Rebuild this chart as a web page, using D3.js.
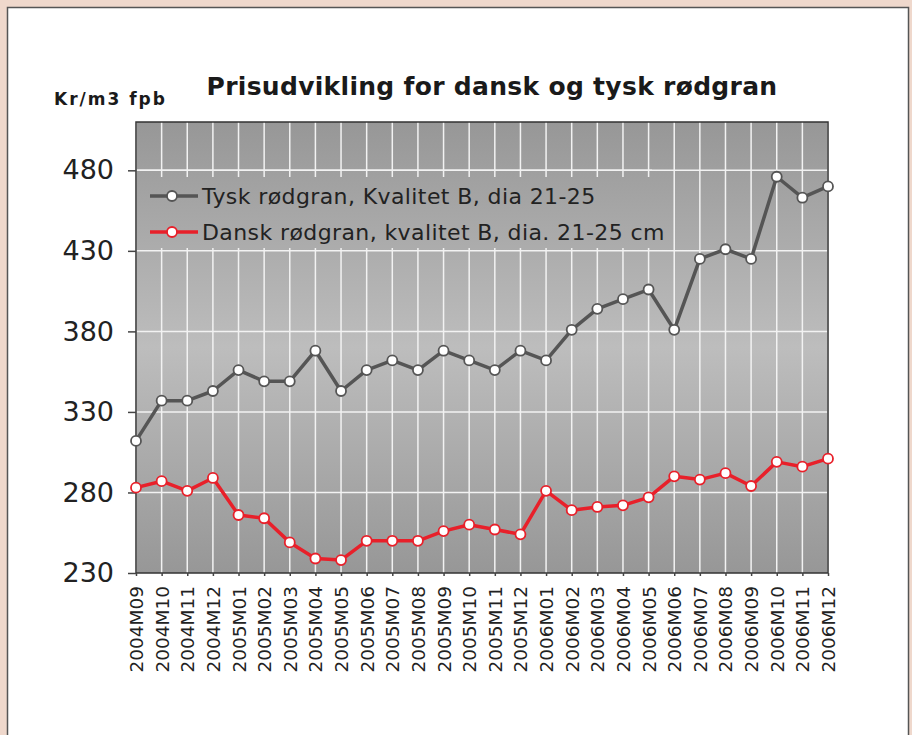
<!DOCTYPE html>
<html>
<head>
<meta charset="utf-8">
<script src="https://cdn.jsdelivr.net/npm/d3@7/dist/d3.min.js"></script>
<style>
  body { margin: 0; background: #efd8cc; }
  svg { display: block; }
</style>
</head>
<body>
<svg id="chart" width="912" height="735"></svg>
<script>
// month labels along x
var months = ["2004M09","2004M10","2004M11","2004M12",
  "2005M01","2005M02","2005M03","2005M04","2005M05","2005M06","2005M07","2005M08","2005M09","2005M10","2005M11","2005M12",
  "2006M01","2006M02","2006M03","2006M04","2006M05","2006M06","2006M07","2006M08","2006M09","2006M10","2006M11","2006M12"];

// Tysk rødgran (gray line)
var tysk = [312,337,337,343,356,349,349,368,343,356,362,356,368,362,356,368,362,381,394,400,406,381,425,431,425,476,463,470];

// Dansk rødgran (red line)
var dansk = [283,287,281,289,266,264,249,239,238,250,250,250,256,260,257,254,281,269,271,272,277,290,288,292,284,299,296,301];

var yTicks = [230,280,330,380,430,480];

var seriesNames = ["Tysk rødgran, Kvalitet B, dia 21-25", "Dansk rødgran, kvalitet B, dia. 21-25 cm"];
var seriesColors = ["#555555", "#e8202a"];

var svg = d3.select("#chart");
var font = "'DejaVu Sans', Verdana, sans-serif";

// white panel
svg.append("rect")
  .attr("x", 7.5).attr("y", 7.5)
  .attr("width", 901).attr("height", 740)
  .attr("fill", "#fff")
  .attr("stroke", "#555").attr("stroke-width", 1.5);

var pLeft = 136, pRight = 828, pTop = 122, pBottom = 573;

var x = d3.scalePoint().domain(months).range([pLeft, pRight]);
var y = d3.scaleLinear().domain([230, 510]).range([pBottom, pTop]);

// background gradient of plot area
var defs = svg.append("defs");
var grad = defs.append("linearGradient")
  .attr("id", "bg")
  .attr("gradientUnits", "userSpaceOnUse")
  .attr("x1", 0).attr("y1", pTop).attr("x2", 0).attr("y2", pBottom);
grad.append("stop").attr("offset", 0).attr("stop-color", "#979797");
grad.append("stop").attr("offset", 0.5).attr("stop-color", "#bdbdbd");
grad.append("stop").attr("offset", 1).attr("stop-color", "#979797");

svg.append("rect")
  .attr("x", pLeft).attr("y", pTop)
  .attr("width", pRight - pLeft).attr("height", pBottom - pTop)
  .attr("fill", "url(#bg)");

// grid
svg.append("g").selectAll("line")
  .data(months)
  .join("line")
  .attr("x1", d => x(d)).attr("x2", d => x(d))
  .attr("y1", pTop).attr("y2", pBottom)
  .attr("stroke", "#f2f2f2").attr("stroke-width", 1.5);

svg.append("g").selectAll("line")
  .data(yTicks.slice(1))
  .join("line")
  .attr("x1", pLeft).attr("x2", pRight)
  .attr("y1", d => y(d)).attr("y2", d => y(d))
  .attr("stroke", "#f2f2f2").attr("stroke-width", 1.5);

// legend box hides vertical grid
svg.append("rect")
  .attr("x", pLeft + 1).attr("y", 177)
  .attr("width", 515).attr("height", 71)
  .attr("fill", "url(#bg)");
svg.append("line")
  .attr("x1", pLeft).attr("x2", pLeft + 516)
  .attr("y1", y(480)).attr("y2", y(480))
  .attr("stroke", "#f2f2f2").attr("stroke-width", 1.5);

// frame
svg.append("rect")
  .attr("x", pLeft).attr("y", pTop)
  .attr("width", pRight - pLeft).attr("height", pBottom - pTop)
  .attr("fill", "none")
  .attr("stroke", "#333").attr("stroke-width", 1.5);

// y axis
var yAxis = svg.append("g")
  .attr("transform", "translate(" + pLeft + ",0)")
  .call(d3.axisLeft(y).tickValues(yTicks).tickSize(8).tickPadding(14));
yAxis.select(".domain").remove();
yAxis.selectAll("line").attr("stroke", "#444").attr("stroke-width", 1.5);
yAxis.selectAll("text")
  .attr("font-family", font).attr("font-size", 27).attr("fill", "#222");

// x axis
var xAxis = svg.append("g")
  .attr("transform", "translate(0," + pBottom + ")")
  .call(d3.axisBottom(x).tickSize(3).tickPadding(0));
xAxis.select(".domain").remove();
xAxis.selectAll("line").attr("stroke", "#444").attr("stroke-width", 1.5);
xAxis.selectAll("text")
  .attr("font-family", font).attr("font-size", 18.5).attr("fill", "#222")
  .attr("transform", "rotate(-90)")
  .attr("text-anchor", "end")
  .attr("x", -13).attr("y", 0).attr("dy", "0.35em");

// series
var series = [tysk, dansk];
var line = d3.line().x((d, i) => x(months[i])).y(d => y(d));

series.forEach(function(vals, s) {
  svg.append("path")
    .datum(vals)
    .attr("d", line)
    .attr("fill", "none")
    .attr("stroke", seriesColors[s])
    .attr("stroke-width", 3.5)
    .attr("stroke-linejoin", "round");
  svg.append("g").selectAll("circle")
    .data(vals)
    .join("circle")
    .attr("cx", (d, i) => x(months[i]))
    .attr("cy", d => y(d))
    .attr("r", 5)
    .attr("fill", "#fff")
    .attr("stroke", seriesColors[s])
    .attr("stroke-width", 1.8);
});

// legend
seriesNames.forEach(function(name, i) {
  var ly = 196 + i * 36;
  svg.append("line")
    .attr("x1", 150).attr("x2", 198)
    .attr("y1", ly).attr("y2", ly)
    .attr("stroke", seriesColors[i]).attr("stroke-width", 3.5);
  svg.append("circle")
    .attr("cx", 172).attr("cy", ly).attr("r", 5)
    .attr("fill", "#fff")
    .attr("stroke", seriesColors[i]).attr("stroke-width", 1.8);
  svg.append("text")
    .attr("x", 202).attr("y", ly).attr("dy", "0.36em")
    .attr("font-family", font).attr("font-size", 22).attr("fill", "#222")
    .attr("letter-spacing", 0.4)
    .text(name);
});

// title
svg.append("text")
  .attr("x", 492).attr("y", 95)
  .attr("text-anchor", "middle")
  .attr("font-family", font).attr("font-size", 25).attr("font-weight", "bold")
  .attr("letter-spacing", 0.3)
  .attr("fill", "#1a1a1a")
  .text("Prisudvikling for dansk og tysk rødgran");

svg.append("text")
  .attr("x", 54).attr("y", 105)
  .attr("font-family", font).attr("font-size", 17).attr("font-weight", "bold")
  .attr("letter-spacing", 2)
  .attr("fill", "#1a1a1a")
  .text("Kr/m3 fpb");
</script>
</body>
</html>
